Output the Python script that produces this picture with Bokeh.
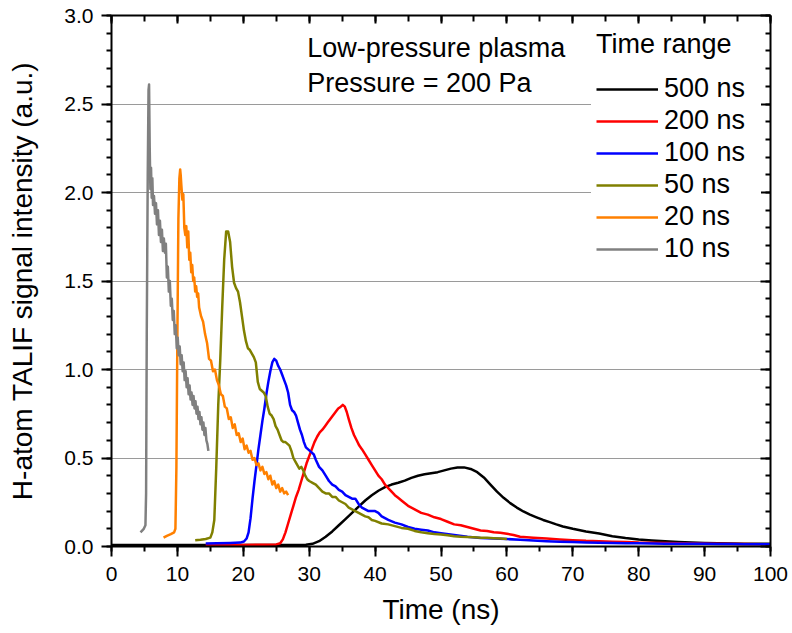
from bokeh.plotting import figure
from bokeh.models import (Range1d, LinearAxis, SingleIntervalTicker, Legend,
                          LegendItem, Label, PrintfTickFormatter,
                          CustomJSTickFormatter)
from bokeh.embed import file_html
from bokeh.resources import INLINE

FONT = "Liberation Sans"

# ---------------- data ----------------
labels = ["500 ns", "200 ns", "100 ns", "50 ns", "20 ns", "10 ns"]
colors = ["#000000", "#FF0000", "#0000FF", "#808000", "#FF8000", "#808080"]

t500 = [0, 10, 20, 25, 28, 29.5, 30.5, 31.5, 32.5, 33.5, 34.5, 35.5, 36.5, 37.5,
        38.5, 39.5, 40.5, 41.5, 42.5, 43.5, 44.5, 45.5, 46.5, 47.5, 48.5, 49.5,
        50.5, 51.5, 52.5, 53.5, 54.5, 55.5, 56.5, 57.5, 58.5, 59.5, 60.5, 61.5,
        62.5, 63.5, 64.5, 65.5, 66.5, 67.5, 68.5, 70, 72, 74, 76, 78, 80, 82, 84,
        86, 88, 90, 92, 94, 96, 98, 100]
v500 = [0.008, 0.008, 0.008, 0.008, 0.009, 0.010, 0.015, 0.030, 0.055, 0.085,
        0.120, 0.155, 0.190, 0.225, 0.260, 0.290, 0.315, 0.335, 0.350, 0.360,
        0.372, 0.388, 0.400, 0.408, 0.414, 0.420, 0.430, 0.440, 0.446, 0.447,
        0.438, 0.420, 0.390, 0.350, 0.310, 0.275, 0.245, 0.220, 0.198, 0.180,
        0.165, 0.150, 0.138, 0.125, 0.113, 0.100, 0.085, 0.073, 0.058, 0.048,
        0.040, 0.034, 0.029, 0.025, 0.022, 0.020, 0.018, 0.017, 0.016, 0.015,
        0.015]

t200 = [14.3, 17, 20, 23, 25.0, 25.6, 26.0, 26.4, 26.8, 27.2, 27.6, 28.0, 28.4,
        28.8, 29.2, 29.6, 30.0, 30.4, 30.8, 31.2, 31.6, 32.0, 32.4, 32.8, 33.2,
        33.6, 34.0, 34.4, 34.8, 35.1, 35.4, 35.7, 36.0, 36.4, 36.8, 37.2, 37.6,
        38.0, 38.5, 39.0, 39.5, 40.0, 40.5, 41.0, 41.5, 42.0, 42.5, 43.0, 43.5,
        44.0, 45.0, 46.0, 47.0, 48.0, 49.0, 50.0, 51.0, 52.0, 53.0, 54.0, 55.0,
        56.0, 57.0, 58.0, 59.0, 60.0, 61.0, 62.0, 64.0, 66.0, 68.0, 70.0, 72.0,
        74.0, 76.0, 78.0, 80.0, 84.0, 88.0, 92.0, 96.0, 100.0]
v200 = [0.008, 0.008, 0.009, 0.010, 0.012, 0.018, 0.040, 0.080, 0.130, 0.180,
        0.230, 0.280, 0.320, 0.370, 0.420, 0.470, 0.510, 0.550, 0.590, 0.620,
        0.645, 0.660, 0.680, 0.700, 0.720, 0.740, 0.760, 0.780, 0.790, 0.800,
        0.790, 0.760, 0.720, 0.670, 0.630, 0.600, 0.570, 0.550, 0.520, 0.490,
        0.460, 0.430, 0.400, 0.380, 0.350, 0.330, 0.310, 0.290, 0.275, 0.260,
        0.230, 0.210, 0.190, 0.180, 0.165, 0.155, 0.140, 0.125, 0.120, 0.110,
        0.100, 0.090, 0.088, 0.080, 0.078, 0.072, 0.065, 0.055, 0.050, 0.045,
        0.040, 0.036, 0.032, 0.030, 0.027, 0.025, 0.022, 0.020, 0.017, 0.015,
        0.014, 0.013]

t100 = [14.3, 16, 18, 19.5, 20.1, 20.5, 20.8, 21.1, 21.4, 21.7, 22.0, 22.3, 22.6,
        22.9, 23.2, 23.5, 23.8, 24.1, 24.4, 24.7, 25.0, 25.3, 25.6, 25.9, 26.2,
        26.5, 26.8, 27.1, 27.4, 27.7, 28.0, 28.3, 28.6, 28.9, 29.2, 29.5, 29.8,
        30.1, 30.4, 30.7, 31.0, 31.5, 32.0, 32.5, 33.0, 33.5, 34.0, 34.5, 35.0,
        35.5, 36.0, 36.5, 37.0, 37.5, 38.0, 38.5, 39.0, 39.5, 40.0, 40.5, 41.0,
        42, 43, 44, 45, 46, 47, 48, 49, 50, 52, 54, 56, 58, 60, 62, 64, 66, 68,
        70, 72, 74, 76, 78, 80, 82, 84, 86, 88, 90, 92, 94, 96, 98, 100]
v100 = [0.017, 0.018, 0.020, 0.022, 0.028, 0.045, 0.080, 0.160, 0.270, 0.370,
        0.460, 0.550, 0.630, 0.710, 0.780, 0.860, 0.930, 0.990, 1.040, 1.060,
        1.050, 1.020, 1.000, 0.970, 0.940, 0.910, 0.870, 0.800, 0.770, 0.760,
        0.740, 0.700, 0.660, 0.630, 0.590, 0.560, 0.550, 0.540, 0.530, 0.520,
        0.490, 0.450, 0.430, 0.400, 0.370, 0.350, 0.340, 0.320, 0.310, 0.290,
        0.280, 0.270, 0.270, 0.240, 0.220, 0.210, 0.200, 0.200, 0.200, 0.190,
        0.170, 0.150, 0.135, 0.125, 0.110, 0.100, 0.095, 0.090, 0.080, 0.075,
        0.065, 0.055, 0.048, 0.045, 0.042, 0.038, 0.034, 0.030, 0.027, 0.025,
        0.023, 0.021, 0.020, 0.019, 0.018, 0.017, 0.016, 0.016, 0.015, 0.015,
        0.014, 0.014, 0.013, 0.013, 0.013]

t50 = [12.7, 13.5, 14.3, 15.0, 15.3, 15.6, 15.9, 16.2, 16.5, 16.8, 17.1, 17.4,
       17.7, 18.0, 18.3, 18.6, 18.9, 19.2, 19.5, 19.8, 20.1, 20.4, 20.7, 21.0,
       21.3, 21.6, 21.9, 22.2, 22.5, 22.8, 23.1, 23.4, 23.7, 24.0, 24.3, 24.6,
       24.9, 25.2, 25.5, 25.8, 26.1, 26.4, 26.7, 27.0, 27.3, 27.6, 27.9, 28.2,
       28.5, 28.8, 29.1, 29.4, 29.7, 30.0, 30.5, 31.0, 31.5, 32.0, 32.5, 33.0,
       33.5, 34.0, 34.5, 35.0, 35.5, 36.0, 36.5, 37.0, 37.5, 38.0, 38.5, 39.0,
       39.5, 40.0, 41.0, 42.0, 43.0, 44.0, 45.0, 46.0, 47.0, 48.0, 49.0, 50.0,
       51.0, 52.0, 53.0, 54.0, 55.0, 56.0, 57.0, 58.0, 59.0, 60.0]
v50 = [0.035, 0.038, 0.042, 0.050, 0.080, 0.150, 0.450, 0.800, 1.050, 1.350,
       1.620, 1.780, 1.780, 1.720, 1.580, 1.490, 1.460, 1.440, 1.380, 1.300,
       1.220, 1.160, 1.120, 1.110, 1.090, 1.070, 1.040, 0.930, 0.890, 0.880,
       0.870, 0.850, 0.790, 0.750, 0.740, 0.720, 0.680, 0.660, 0.630, 0.600,
       0.590, 0.590, 0.580, 0.570, 0.540, 0.500, 0.480, 0.460, 0.440, 0.450,
       0.430, 0.400, 0.380, 0.370, 0.360, 0.350, 0.330, 0.310, 0.300, 0.300,
       0.280, 0.280, 0.260, 0.250, 0.240, 0.220, 0.210, 0.200, 0.190, 0.180,
       0.170, 0.165, 0.150, 0.145, 0.130, 0.125, 0.115, 0.105, 0.100, 0.088,
       0.080, 0.075, 0.070, 0.068, 0.063, 0.058, 0.055, 0.053, 0.052, 0.050,
       0.049, 0.047, 0.045, 0.043]

t20 = [7.9, 8.4, 9.0, 9.5, 9.7, 9.85, 10.0, 10.15, 10.3, 10.42, 10.5, 10.6,
       10.75, 10.9, 11.05, 11.2, 11.35, 11.5, 11.65, 11.8, 11.95, 12.1, 12.25,
       12.4, 12.55, 12.7, 12.85, 13.0, 13.15, 13.3, 13.6, 13.9, 14.2, 14.5, 14.8,
       15.1, 15.4, 15.7, 16.0, 16.3, 16.6, 16.9, 17.2, 17.5, 17.8, 18.1, 18.4,
       18.7, 19.0, 19.3, 19.6, 19.9, 20.2, 20.5, 20.8, 21.1, 21.4, 21.7, 22.0,
       22.3, 22.6, 22.9, 23.2, 23.5, 23.8, 24.1, 24.4, 24.7, 25.0, 25.3, 25.6,
       25.9, 26.2, 26.5, 26.8]
v20 = [0.05, 0.06, 0.07, 0.08, 0.10, 0.45, 1.20, 1.85, 2.08, 2.13, 2.10, 2.04,
       1.96, 1.99, 1.80, 1.76, 1.81, 1.69, 1.78, 1.62, 1.66, 1.55, 1.59, 1.50,
       1.52, 1.44, 1.47, 1.41, 1.43, 1.35, 1.30, 1.27, 1.20, 1.15, 1.06, 1.05,
       0.99, 1.00, 0.94, 0.91, 0.86, 0.85, 0.79, 0.78, 0.72, 0.73, 0.67, 0.69,
       0.63, 0.64, 0.59, 0.61, 0.55, 0.57, 0.53, 0.54, 0.49, 0.50, 0.46, 0.47,
       0.43, 0.45, 0.41, 0.42, 0.38, 0.40, 0.35, 0.37, 0.33, 0.35, 0.31, 0.33,
       0.30, 0.31, 0.29]

t10 = [4.4, 4.9, 5.15, 5.25, 5.35, 5.5, 5.62, 5.7, 5.8, 5.9, 6.0, 6.1, 6.2, 6.3,
       6.45, 6.6, 6.75, 6.9, 7.05, 7.2, 7.35, 7.5, 7.65, 7.8, 7.95, 8.1, 8.25,
       8.4, 8.55, 8.7, 8.85, 9.0, 9.15, 9.3, 9.45, 9.6, 9.75, 9.9, 10.05, 10.2,
       10.35, 10.5, 10.65, 10.8, 10.95, 11.1, 11.25, 11.4, 11.55, 11.7, 11.85,
       12.0, 12.15, 12.3, 12.45, 12.6, 12.75, 12.9, 13.05, 13.2, 13.35, 13.5,
       13.65, 13.8, 13.95, 14.1, 14.25, 14.4, 14.55, 14.7]
v10 = [0.08, 0.10, 0.12, 0.30, 1.20, 2.10, 2.58, 2.61, 2.25, 2.02, 2.14, 1.97,
       2.08, 1.93, 1.98, 1.88, 1.94, 1.82, 1.90, 1.76, 1.84, 1.72, 1.79, 1.67,
       1.74, 1.66, 1.71, 1.52, 1.58, 1.44, 1.50, 1.36, 1.40, 1.28, 1.33, 1.20,
       1.25, 1.12, 1.18, 1.08, 1.13, 1.03, 1.08, 0.99, 1.04, 0.94, 0.99, 0.90,
       0.95, 0.86, 0.91, 0.83, 0.87, 0.80, 0.85, 0.78, 0.82, 0.75, 0.79, 0.72,
       0.76, 0.69, 0.73, 0.66, 0.70, 0.63, 0.67, 0.60, 0.58, 0.54]

series_t = [t500, t200, t100, t50, t20, t10]
series_v = [v500, v200, v100, v50, v20, v10]

x_ticks_interval = 10
y_ticks_interval = 0.5
legend_title = "Time range"
note_lines = ["Low-pressure plasma", "Pressure = 200 Pa"]

# ---------------- figure ----------------
p = figure(width=792, height=633, output_backend="svg", toolbar_location=None,
           x_range=Range1d(0, 100), y_range=Range1d(0, 3.0),
           min_border_left=111, min_border_right=22, min_border_top=15,
           min_border_bottom=87, outline_line_color=None,
           background_fill_color="white", border_fill_color="white")

p.xaxis.ticker = SingleIntervalTicker(interval=x_ticks_interval, num_minor_ticks=2)
p.yaxis.ticker = SingleIntervalTicker(interval=y_ticks_interval, num_minor_ticks=5)
p.yaxis.formatter = PrintfTickFormatter(format="%.1f")

for ax in (p.xaxis[0], p.yaxis[0]):
    ax.axis_line_width = 2
    ax.major_tick_line_width = 2
    ax.minor_tick_line_width = 2
    ax.major_tick_in = 0
    ax.major_tick_out = 10
    ax.minor_tick_in = 0
    ax.minor_tick_out = 5
    ax.major_label_text_font = FONT
    ax.major_label_text_font_size = "21px"
    ax.major_label_text_color = "black"
    ax.axis_label_text_font = FONT
    ax.axis_label_text_font_size = "28px"
    ax.axis_label_text_font_style = "normal"
    ax.axis_label_text_color = "black"

p.xaxis.axis_label = "Time (ns)"
p.yaxis.axis_label = "H-atom TALIF signal intensity (a.u.)"
p.xaxis.major_label_standoff = 10
p.xaxis.axis_label_standoff = 10
p.yaxis.major_label_standoff = 8
p.yaxis.axis_label_standoff = 23

# mirrored axes with inward ticks and no labels
top = LinearAxis(ticker=SingleIntervalTicker(interval=x_ticks_interval, num_minor_ticks=2),
                 formatter=CustomJSTickFormatter(code="return '';"),
                 major_tick_in=8, major_tick_out=0, minor_tick_in=6, minor_tick_out=0,
                 major_label_text_font_size="2px", major_label_standoff=0,
                 axis_line_width=2, major_tick_line_width=2, minor_tick_line_width=2)
right = LinearAxis(ticker=SingleIntervalTicker(interval=y_ticks_interval, num_minor_ticks=5),
                   formatter=CustomJSTickFormatter(code="return '';"),
                   major_tick_in=10, major_tick_out=0, minor_tick_in=5, minor_tick_out=0,
                   major_label_text_font_size="2px", major_label_standoff=0,
                   axis_line_width=2, major_tick_line_width=2, minor_tick_line_width=2)
p.add_layout(top, "above")
p.add_layout(right, "right")

p.xgrid.visible = False
p.ygrid.grid_line_color = "#9a9a9a"
p.ygrid.grid_line_width = 1

renderers = []
for t, v, c in zip(series_t, series_v, colors):
    r = p.line(t, v, line_color=c, line_width=2.5, line_join="round")
    renderers.append(r)

items = [LegendItem(label=lab, renderers=[r]) for lab, r in zip(labels, renderers)]
legend = Legend(items=items, title=legend_title, location="top_right",
                title_text_font=FONT, title_text_font_size="27px",
                title_text_font_style="normal", title_text_color="black",
                title_standoff=13,
                label_text_font=FONT, label_text_font_size="27px",
                label_text_color="black",
                glyph_width=62, glyph_height=20, label_standoff=6,
                label_width=92, spacing=1, padding=5, margin=9,
                border_line_alpha=0, background_fill_color="white",
                background_fill_alpha=1.0)
p.add_layout(legend)

p.add_layout(Label(x=29.7, y=2.815, text=note_lines[0], text_font=FONT,
                   text_font_size="27px", text_baseline="alphabetic",
                   text_color="black"))
p.add_layout(Label(x=29.7, y=2.617, text=note_lines[1], text_font=FONT,
                   text_font_size="27px", text_baseline="alphabetic",
                   text_color="black"))

open("out.html", "w").write(file_html(p, INLINE))
